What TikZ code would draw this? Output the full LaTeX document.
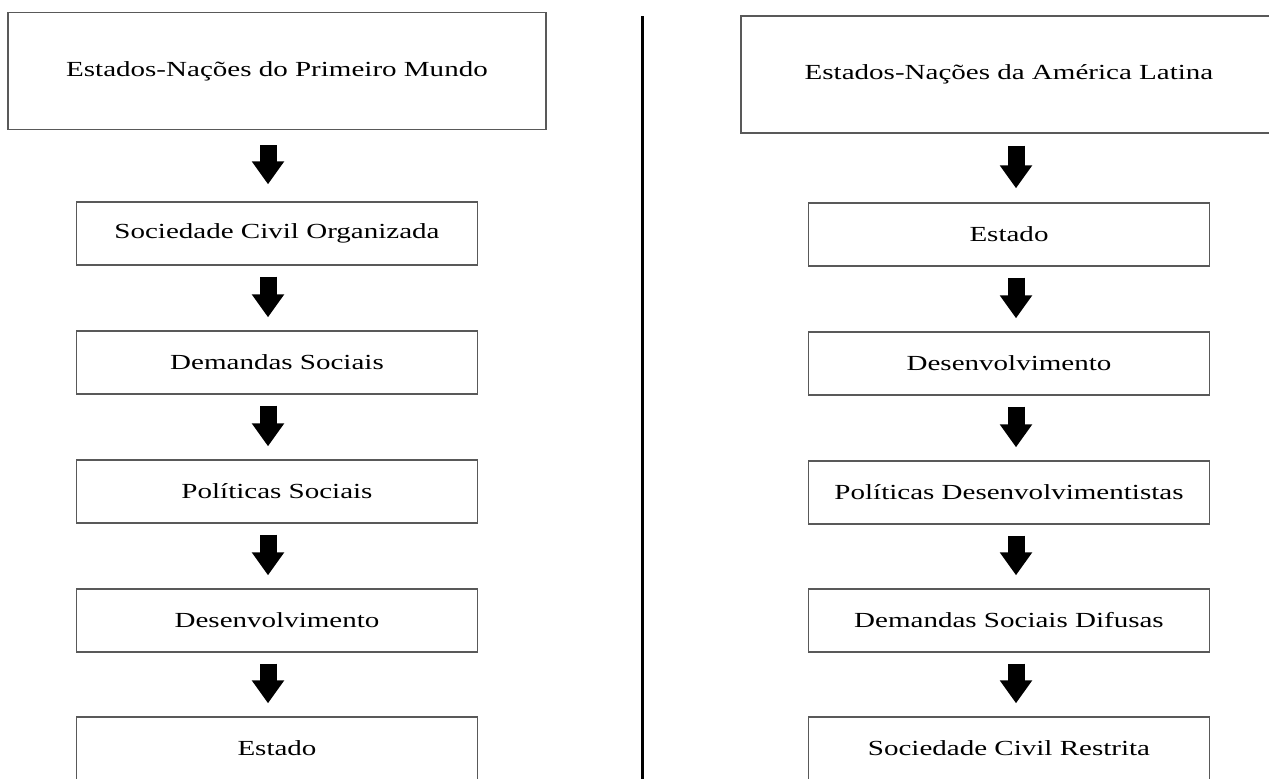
\documentclass[tikz,border=0pt]{standalone}
\usepackage{fontspec}
\setmainfont{Liberation Serif}[FakeStretch=1.35]
\usetikzlibrary{arrows.meta}

\tikzset{
  caixa/.style={draw=black!65, line width=1.4pt, inner sep=0pt,
    font=\fontsize{21.5}{26}\selectfont},
  caixatopo/.style={caixa, minimum height=117pt},
  caixainterna/.style={caixa, minimum width=401pt, minimum height=63pt},
  seta/.style={line width=17pt, -{Triangle[width=31pt,length=23pt]}},
}

\begin{document}
\begin{tikzpicture}[x=1pt, y=-1pt]
\clip (0,0) rectangle (1269,779);
\fill[white] (0,0) rectangle (1269,779);
% divisao
\coordinate (topo) at (642,16);
\coordinate (base) at (642,779);
\draw[line width=3pt] (topo) -- (base);
% primeiro mundo
\node[caixatopo, minimum width=538pt] (mundo) at (277,71) {Estados-Nações do Primeiro Mundo};
\foreach \nome/\y/\texto in {sociedade/233.5/Sociedade Civil Organizada,
    demandas/362.5/Demandas Sociais, politicas/491.5/Políticas Sociais,
    desenv/620.5/Desenvolvimento, estado/748.5/Estado} {
  \node[caixainterna] (\nome) at (277,\y) {\texto};
}
\foreach \a/\b/\s in {mundo/sociedade/15, sociedade/demandas/11, demandas/politicas/11,
    politicas/desenv/11, desenv/estado/11} {
  \draw[seta, shorten <=\s pt, shorten >=\s pt+2pt]
    ([xshift=-9pt]\a.south) -- ([xshift=-9pt]\b.north);
}
% america latina
\node[caixatopo, minimum width=536pt] (latina) at (1009,74.5) {Estados-Nações da América Latina};
\foreach \nome/\y/\texto in {estadoAL/234.5/Estado,
    desenvAL/363.5/Desenvolvimento, politicasAL/492.5/Políticas Desenvolvimentistas,
    difusas/620.5/Demandas Sociais Difusas, restrita/748.5/Sociedade Civil Restrita} {
  \node[caixainterna] (\nome) at (1009,\y) {\texto};
}
\foreach \a/\b/\s in {latina/estadoAL/12, estadoAL/desenvAL/11, desenvAL/politicasAL/11,
    politicasAL/difusas/11, difusas/restrita/11} {
  \draw[seta, shorten <=\s pt, shorten >=\s pt+2pt]
    ([xshift=7pt]\a.south) -- ([xshift=7pt]\b.north);
}
\end{tikzpicture}
\end{document}
